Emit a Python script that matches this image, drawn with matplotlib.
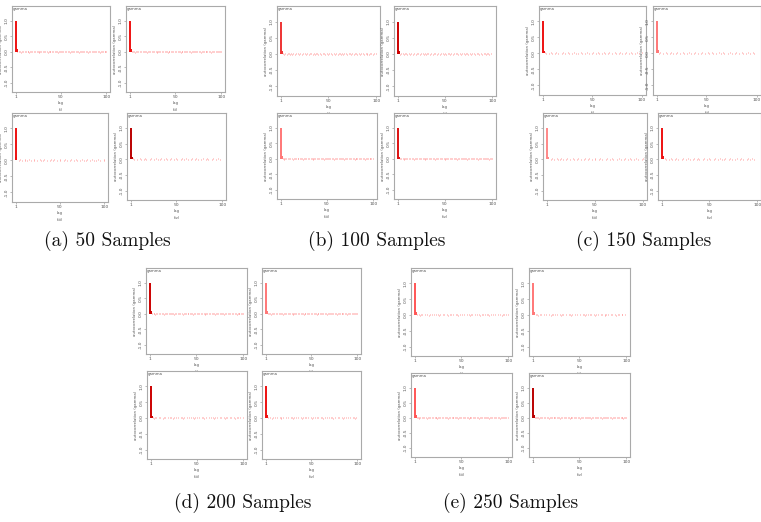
import numpy as np
import matplotlib
matplotlib.use("Agg")
import matplotlib.pyplot as plt

W, H = 761, 522

captions = ["(a) 50 Samples", "(b) 100 Samples", "(c) 150 Samples",
            "(d) 200 Samples", "(e) 250 Samples"]
sub_labels = ["(i)", "(ii)", "(iii)", "(iv)"]

# acf at lag 1 and lag 2 for each panel (groups a..e, panels i..iv)
lag1 = [[1.0, 1.0, 1.0, 1.0]] * 5
lag2 = [[0.10, 0.08, 0.09, 0.07],
        [0.09, 0.10, 0.08, 0.07],
        [0.08, 0.10, 0.09, 0.10],
        [0.08, 0.09, 0.07, 0.08],
        [0.09, 0.10, 0.08, 0.09]]
bar_colors = [["#ee1111", "#ee1111", "#ee1111", "#bb0000"],
              ["#ee3333", "#cc0000", "#ff7777", "#dd1111"],
              ["#ee1111", "#ff7777", "#ff8888", "#ee1111"],
              ["#cc0000", "#ff7777", "#cc0000", "#ee1111"],
              ["#ff5555", "#ff7777", "#ff5555", "#bb0000"]]

# near-zero tail of the acf, lags 3..100, in hundredths (one list per panel position)
tail_i = [3, -2, 2, 1, -3, 2, 4, -2, 1, 2,
          -2, 3, 1, -3, 2, 1, 2, -2, 4, 1,
          -2, 2, 1, 3, -3, 2, 1, -2, 2, 4,
          1, -2, 2, -3, 1, 2, 3, -2, 1, 2,
          -2, 1, 4, 2, -3, 1, 2, -2, 3, 1,
          2, -2, 1, 3, -2, 2, 1, -3, 2, 4,
          -2, 1, 2, -2, 3, 1, 2, -3, 1, 2,
          4, -2, 2, 1, -2, 3, 2, -3, 1, 2,
          -2, 3, 1, 2, -2, 1, 4, -2, 2, 1,
          -3, 2, 3, 1, -2, 2, 1, 3]
tail_ii = [-2, 3, 1, 2, -3, 1, 2, 4, -2, 1,
           2, -2, 3, 1, -2, 2, 1, -3, 4, 2,
           1, -2, 2, 1, 3, -2, 1, 2, -3, 2,
           3, 1, -2, 2, 1, -2, 4, 2, 1, -3,
           2, 1, -2, 3, 1, 2, -2, 1, 3, -2,
           1, 2, 4, -3, 2, 1, -2, 2, 1, 3,
           2, -2, 1, 3, -3, 2, 1, 2, -2, 1,
           4, 2, -2, 1, 2, -3, 3, 1, 2, -2,
           1, 2, 3, -2, 1, 2, -3, 1, 4, 2,
           -2, 1, 2, 3, -2, 1, 2, 1]
tail_iii = [2, 1, -3, 3, 2, -2, 1, 2, 4, -2,
            1, -3, 2, 3, 1, -2, 2, 1, -2, 3,
            2, 1, -3, 2, 1, 4, -2, 2, 1, -2,
            3, 2, 1, -3, 2, 1, -2, 3, 1, 2,
            -2, 4, 1, 2, -3, 2, 1, 3, -2, 1,
            2, 1, -2, 3, 2, -3, 1, 2, 1, -2,
            4, 1, 2, -2, 1, 3, -3, 2, 1, 2,
            -2, 1, 3, 2, -2, 1, 2, -3, 4, 1,
            2, -2, 1, 3, 2, -2, 1, 2, -3, 1,
            3, 2, -2, 1, 2, 1, -2, 3]
tail_iv = [1, 3, -2, 2, 1, -3, 2, 1, 4, -2,
           2, 1, -2, 3, 2, -3, 1, 2, 1, -2,
           3, 1, 2, -2, 1, 4, 2, -3, 1, 2,
           -2, 3, 1, 2, -2, 1, 3, -3, 2, 1,
           2, -2, 4, 1, 2, -2, 1, 3, -3, 2,
           1, 2, -2, 3, 1, 2, -2, 1, 4, 2,
           -3, 1, 2, -2, 3, 1, 2, 1, -2, 3,
           2, -3, 1, 2, -2, 1, 4, 2, 1, -2,
           3, 1, -3, 2, 1, 2, -2, 3, 1, 2,
           -2, 1, 4, 2, -3, 1, 2, 1]
tails = [tail_i, tail_ii, tail_iii, tail_iv]

# panel frames in pixels: left, top, right, bottom (order i, ii, iii, iv)
frames = [
    [(12, 6, 110, 92), (126, 6, 225, 92), (12, 113, 108, 202), (127, 113, 226, 200)],
    [(277, 6, 380, 96), (394, 6, 496, 96), (277, 113, 377, 199), (394, 113, 496, 199)],
    [(539, 6, 646, 95), (653, 6, 761, 95), (543, 113, 647, 200), (658, 113, 761, 200)],
    [(146, 268, 247, 354), (262, 268, 361, 354), (147, 371, 247, 459), (262, 371, 361, 459)],
    [(411, 268, 512, 356), (529, 268, 630, 356), (411, 373, 512, 457), (529, 373, 630, 457)],
]
caption_pos = [(107, 241), (377, 241), (644, 241), (243, 503), (511, 503)]

GRAY = "#888888"
TXT = "#555555"

fig = plt.figure(figsize=(W / 100, H / 100), dpi=100)


def small_acf(rect, head, tail, color, sub):
    l, t, r, b = rect
    ax = fig.add_axes([l / W, 1 - b / H, (r - l) / W, (b - t) / H])
    lags = np.arange(1, len(head) + len(tail) + 1)
    ax.vlines(lags[2:], 0, np.array(tail) / 100.0, color="#ff7777", lw=0.5)
    ax.vlines(lags[:2], 0, head, color=color, lw=1.4)
    ax.set_xlim(-3, 104)
    ax.set_ylim(-1.3, 1.48)
    ax.set_xticks([1, 50, 100])
    ax.set_yticks([-1.0, -0.5, 0.0, 0.5, 1.0])
    ax.set_yticklabels(["-1.0", "-0.5", "0.0", "0.5", "1.0"], rotation=90, va="center")
    ax.tick_params(labelsize=3.2, length=1.2, width=0.4, pad=1.2,
                   colors=GRAY, labelcolor=TXT)
    for s in ax.spines.values():
        s.set_color("#aaaaaa")
        s.set_linewidth(0.8)
    ax.set_xlabel("lag\n" + sub, fontsize=2.8, color=TXT, labelpad=1.5, linespacing=2.0)
    ax.set_ylabel("autocorrelation (gamma)", fontsize=2.8, color=TXT, labelpad=1)
    ax.text(0.01, 0.985, "gamma", transform=ax.transAxes, fontsize=2.8,
            color=TXT, va="top", ha="left")


for g in range(5):
    for p in range(4):
        head = [lag1[g][p], lag2[g][p]]
        small_acf(frames[g][p], head, tails[p], bar_colors[g][p], sub_labels[p])
    x, y = caption_pos[g]
    fig.text(x / W, 1 - y / H, captions[g], family="cmr10", fontsize=14,
             ha="center", va="center", color="#111111")

fig.savefig("out.png", dpi=100)
